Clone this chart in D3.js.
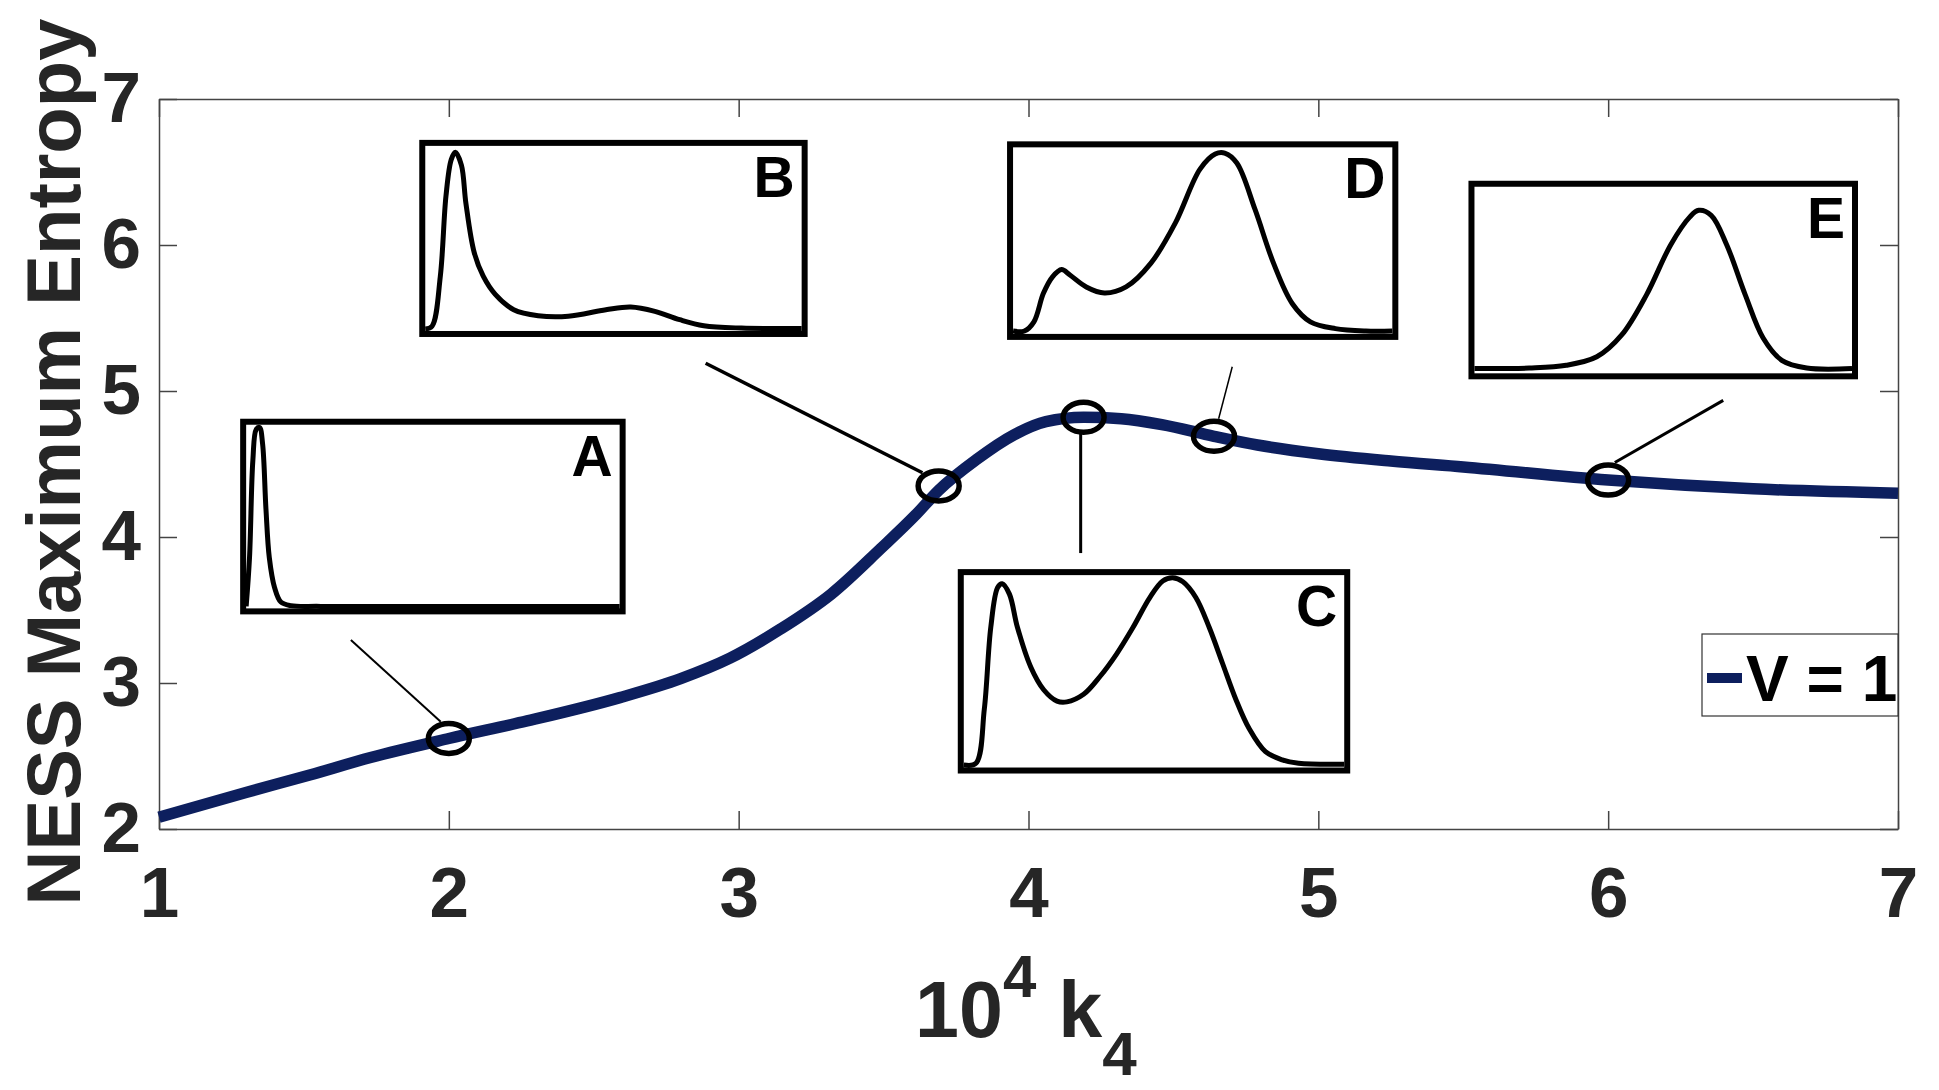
<!DOCTYPE html>
<html>
<head>
<meta charset="utf-8">
<script src="https://cdn.jsdelivr.net/npm/d3@7"></script>
<style>
  body { margin: 0; background: #fff; }
  text { font-family: "Liberation Sans", Arial, sans-serif; font-weight: bold; }
</style>
</head>
<body>
<svg id="chart" width="1939" height="1090"></svg>
<script>
// main curve
const k4 = [1.0, 1.3, 1.52, 1.73, 2.0, 2.27, 2.59, 2.8, 2.97, 3.145, 3.32, 3.49, 3.61, 3.69, 3.82, 3.95, 4.06, 4.19, 4.32, 4.46, 4.64, 4.79, 5.0, 5.25, 5.5, 6.0, 6.5, 7.0]
const entropy = [2.08, 2.25, 2.37, 2.49, 2.62, 2.74, 2.90, 3.03, 3.17, 3.37, 3.61, 3.92, 4.15, 4.32, 4.53, 4.70, 4.79, 4.82, 4.81, 4.77, 4.69, 4.63, 4.57, 4.52, 4.48, 4.39, 4.33, 4.30]

const xTicks = [1, 2, 3, 4, 5, 6, 7]
const yTicks = [2, 3, 4, 5, 6, 7]
const legendLabel = "V = 1"

// circled points on the curve
const markerNames = ["A", "B", "C", "D", "E"]
const markerK = [2.0, 3.69, 4.19, 4.64, 6.0]
const markerS = [2.62, 4.35, 4.82, 4.69, 4.39]

// inset boxes in data units: left, right, top, bottom
const insetBoxes = [
    [1.28, 2.61, 4.81, 3.47],
    [1.898, 3.238, 6.72, 5.37],
    [3.756, 5.11, 3.78, 2.38],
    [3.926, 5.276, 6.71, 5.35],
    [5.518, 6.862, 6.44, 5.08]
]
// pointer lines from inset to marker: x1, y1, x2, y2 (data units)
const pointers = [
    [1.662, 3.295, 1.972, 2.735],
    [2.886, 5.19, 3.634, 4.44],
    [4.18, 4.71, 4.18, 3.89],
    [4.703, 5.166, 4.656, 4.81],
    [6.397, 4.936, 6.023, 4.51]
]
const pointerWidths = [2, 3.5, 3, 1.5, 3]

// inset distributions, normalised [x, y]
const insetA = [[0,0],[0.009,0.27],[0.018,0.81],[0.027,0.98],[0.036,0.99],[0.044,0.9],[0.053,0.54],[0.062,0.27],[0.076,0.105],[0.093,0.024],[0.12,0.004],[0.2,0],[1,0]]
const insetB = [[0,0],[0.018,0.015],[0.04,0.29],[0.055,0.73],[0.069,0.93],[0.08,0.97],[0.096,0.9],[0.108,0.69],[0.13,0.42],[0.154,0.29],[0.186,0.19],[0.235,0.106],[0.3,0.073],[0.38,0.07],[0.48,0.106],[0.546,0.121],[0.61,0.097],[0.676,0.051],[0.74,0.018],[0.84,0.005],[1,0.003]]
const insetC = [[0,0.003],[0.032,0.012],[0.054,0.298],[0.071,0.73],[0.089,0.94],[0.101,0.96],[0.12,0.905],[0.141,0.73],[0.176,0.52],[0.21,0.4],[0.245,0.34],[0.271,0.336],[0.315,0.376],[0.358,0.47],[0.402,0.59],[0.445,0.73],[0.489,0.887],[0.523,0.974],[0.549,0.991],[0.576,0.97],[0.61,0.887],[0.645,0.73],[0.68,0.54],[0.715,0.35],[0.75,0.195],[0.793,0.073],[0.837,0.03],[0.88,0.012],[1,0.007]]
const insetD = [[0,0.005],[0.03,0.005],[0.055,0.055],[0.08,0.21],[0.104,0.3],[0.128,0.34],[0.15,0.31],[0.193,0.245],[0.241,0.212],[0.298,0.245],[0.363,0.373],[0.428,0.594],[0.493,0.887],[0.533,0.969],[0.558,0.974],[0.59,0.92],[0.638,0.667],[0.687,0.373],[0.736,0.155],[0.784,0.055],[0.85,0.018],[0.93,0.005],[1,0.005]]
const insetE = [[0,0.015],[0.145,0.018],[0.243,0.033],[0.324,0.079],[0.39,0.198],[0.456,0.418],[0.52,0.69],[0.57,0.84],[0.594,0.877],[0.627,0.85],[0.668,0.69],[0.717,0.418],[0.765,0.18],[0.814,0.06],[0.88,0.018],[1,0.015]]
const insetCurves = [insetA, insetB, insetC, insetD, insetE]

const navy = "#0d1f5e"
const ink = "#262626"

const svg = d3.select("#chart")
const margin = { top: 99, right: 41, bottom: 261, left: 159 }
const W = 1939 - margin.left - margin.right
const H = 1090 - margin.top - margin.bottom

const x = d3.scaleLinear().domain([1, 7]).range([0, W])
const y = d3.scaleLinear().domain([2, 7]).range([H, 0])

const g = svg.append("g").attr("transform", `translate(${margin.left},${margin.top})`)

// axes, ticks pointing inward on all four sides
const styleAxis = (sel) => {
    sel.select(".domain").attr("stroke", "#444").attr("stroke-width", 1.5)
    sel.selectAll(".tick line").attr("stroke", "#444").attr("stroke-width", 1.5)
    sel.selectAll(".tick text").attr("fill", ink).attr("font-size", 71)
        .attr("font-family", "Liberation Sans, Arial, sans-serif").attr("font-weight", "bold")
}
g.append("g").attr("transform", `translate(0,${H})`)
    .call(d3.axisBottom(x).tickValues(xTicks).tickFormat(d3.format("d")).tickSize(-18).tickSizeOuter(0).tickPadding(38))
    .call(styleAxis)
g.append("g")
    .call(d3.axisTop(x).tickValues(xTicks).tickFormat("").tickSize(-18).tickSizeOuter(0))
    .call(styleAxis)
g.append("g")
    .call(d3.axisLeft(y).tickValues(yTicks).tickFormat(d3.format("d")).tickSize(-18).tickSizeOuter(0).tickPadding(18))
    .call(styleAxis)
g.append("g").attr("transform", `translate(${W},0)`)
    .call(d3.axisRight(y).tickValues(yTicks).tickFormat("").tickSize(-18).tickSizeOuter(0))
    .call(styleAxis)

// main curve
const line = d3.line().x(d => x(d[0])).y(d => y(d[1])).curve(d3.curveMonotoneX)
g.append("path")
    .datum(d3.zip(k4, entropy))
    .attr("d", line)
    .attr("fill", "none")
    .attr("stroke", navy)
    .attr("stroke-width", 11.5)
    .attr("stroke-linecap", "butt")

// pointer lines
g.selectAll(".pointer")
    .data(pointers)
    .join("line")
    .attr("class", "pointer")
    .attr("x1", d => x(d[0])).attr("y1", d => y(d[1]))
    .attr("x2", d => x(d[2])).attr("y2", d => y(d[3]))
    .attr("stroke", "#000")
    .attr("stroke-width", (d, i) => pointerWidths[i])

// circled points
g.selectAll(".marker")
    .data(markerK)
    .join("ellipse")
    .attr("class", "marker")
    .attr("cx", d => x(d))
    .attr("cy", (d, i) => y(markerS[i]))
    .attr("rx", 20.5)
    .attr("ry", 15)
    .attr("fill", "none")
    .attr("stroke", "#000")
    .attr("stroke-width", 5.5)

// insets
const bw = 6
insetBoxes.forEach((b, i) => {
    const x0 = x(b[0]), x1 = x(b[1]), y0 = y(b[2]), y1 = y(b[3])
    const ig = g.append("g").attr("class", "inset")
    ig.append("rect")
        .attr("x", x0 + bw / 2).attr("y", y0 + bw / 2)
        .attr("width", x1 - x0 - bw).attr("height", y1 - y0 - bw)
        .attr("fill", "#fff")
        .attr("stroke", "#000")
        .attr("stroke-width", bw)
    const ix = d3.scaleLinear().domain([0, 1]).range([x0 + bw, x1 - bw])
    const iy = d3.scaleLinear().domain([0, 1]).range([y1 - bw - 2, y0 + bw + 1])
    ig.append("path")
        .datum(insetCurves[i])
        .attr("d", d3.line().x(d => ix(d[0])).y(d => iy(d[1])).curve(d3.curveCatmullRom.alpha(0.5)))
        .attr("fill", "none")
        .attr("stroke", "#000")
        .attr("stroke-width", 5)
        .attr("stroke-linejoin", "round")
    ig.append("text")
        .attr("x", x1 - bw - 7)
        .attr("y", y0 + bw + 51)
        .attr("text-anchor", "end")
        .attr("font-size", 57)
        .attr("fill", "#000")
        .text(markerNames[i])
})

// legend
const lg = g.append("g").attr("transform", `translate(${W - 196},${535})`)
lg.append("rect").attr("width", 196).attr("height", 82)
    .attr("fill", "#fff").attr("stroke", "#333").attr("stroke-width", 1.2)
lg.append("line").attr("x1", 5).attr("x2", 40).attr("y1", 44).attr("y2", 44)
    .attr("stroke", navy).attr("stroke-width", 10)
lg.append("text").attr("x", 44).attr("y", 67).attr("font-size", 64).attr("fill", "#000").text(legendLabel)

// axis titles
const xt = svg.append("text")
    .attr("x", 915).attr("y", 1037)
    .attr("font-size", 79).attr("fill", ink)
xt.append("tspan").text("10")
xt.append("tspan").attr("font-size", 60).attr("dy", -40).text("4")
xt.append("tspan").attr("dy", 40).text(" k")
xt.append("tspan").attr("font-size", 62).attr("dy", 38).text("4")

svg.append("text")
    .attr("transform", `translate(80,${margin.top + H / 2 - 2}) rotate(-90)`)
    .attr("text-anchor", "middle")
    .attr("font-size", 76)
    .attr("fill", ink)
    .text("NESS Maximum Entropy")
</script>
</body>
</html>
